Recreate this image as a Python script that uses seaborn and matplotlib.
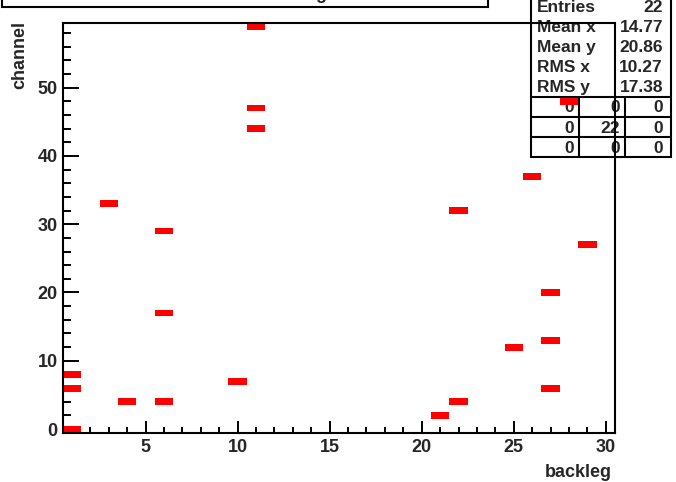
import numpy as np
import pandas as pd
import seaborn as sns
import matplotlib.pyplot as plt
from matplotlib.colors import ListedColormap
from matplotlib.patches import Rectangle
from matplotlib.lines import Line2D
from matplotlib.ticker import MultipleLocator

# hit positions (backleg, channel), one entry per fill
backleg = [1, 1, 1, 3, 4, 6, 6, 6, 10, 11, 11, 11, 21, 22, 22, 25, 26, 27, 27, 27, 28, 29]
channel = [0, 6, 8, 33, 4, 29, 17, 4, 7, 59, 47, 44, 2, 32, 4, 12, 37, 20, 13, 6, 48, 27]

stat_names = ["Entries", "Mean x", "Mean y", "RMS x", "RMS y"]
stat_values = ["22", "14.77", "20.86", "10.27", "17.38"]
overflow_grid = [["0", "0", "0"], ["0", "22", "0"], ["0", "0", "0"]]

df = pd.DataFrame({"backleg": backleg, "channel": channel})

sns.set_style("ticks")
plt.rcParams['font.family'] = ['Liberation Sans', 'DejaVu Sans']
plt.rcParams['font.weight'] = 'bold'

W, H = 676, 482
fig = plt.figure(figsize=(W / 100, H / 100), dpi=100, facecolor='white')


def fx(px):
    return px / W


def fy(py):
    return 1 - py / H


ax = fig.add_axes([fx(62.7), fy(432.5), fx(615) - fx(62.7), fy(22.7) - fy(432.5)])
ax.patch.set_facecolor('none')

sns.histplot(data=df, x="backleg", y="channel", discrete=True,
             cmap=ListedColormap(['#ff0000']), ax=ax)

ax.set_xlim(0.5, 30.5)
ax.set_ylim(-0.5, 59.5)
ax.set_xlabel("")
ax.set_ylabel("")
ax.xaxis.set_major_locator(MultipleLocator(5))
ax.xaxis.set_minor_locator(MultipleLocator(1))
ax.yaxis.set_major_locator(MultipleLocator(10))
ax.yaxis.set_minor_locator(MultipleLocator(2))
ax.tick_params(axis='x', which='major', direction='in', length=8.6, width=1.4,
               labelsize=13, pad=5, color='black')
ax.tick_params(axis='x', which='minor', direction='in', length=4.3, width=1.4, color='black')
ax.tick_params(axis='y', which='major', direction='in', length=11.5, width=1.4,
               labelsize=13, pad=3.5, color='black')
ax.tick_params(axis='y', which='minor', direction='in', length=5.8, width=1.4, color='black')
ax.set_xticks([5, 10, 15, 20, 25, 30])
ax.set_yticks([0, 10, 20, 30, 40, 50])
for lab in ax.get_xticklabels() + ax.get_yticklabels():
    lab.set_fontweight('bold')
for s in ax.spines.values():
    s.set_visible(True)
    s.set_linewidth(1.5)
    s.set_color('black')

# axis titles, ROOT style
fig.text(fx(612), fy(477), "backleg", ha='right', va='baseline',
         fontsize=13, fontweight='bold')
fig.text(fx(20), fy(21), "channel", ha='center', va='top', rotation=90,
         fontsize=13, fontweight='bold')

# title box, mostly off the canvas
fig.add_artist(Rectangle((fx(2), fy(7)), fx(488) - fx(2), 0.1, transform=fig.transFigure,
                         facecolor='white', edgecolor='black', linewidth=1.5, zorder=-2))
fig.text(fx(245), fy(-1), "channel vs backleg", ha='center', va='baseline',
         fontsize=13, fontweight='bold', zorder=-1)

# stats box, drawn behind the frame
bx0, bx1, by1 = 531, 671, 157
fig.add_artist(Rectangle((fx(bx0), fy(by1)), fx(bx1) - fx(bx0), 0.5, transform=fig.transFigure,
                         facecolor='white', edgecolor='black', linewidth=1.5, zorder=-2))
for i, (name, val) in enumerate(zip(stat_names, stat_values)):
    base = 12 + 20 * i
    fig.text(fx(537), fy(base), name, ha='left', va='baseline', fontsize=12.5,
             fontweight='bold', zorder=-1)
    fig.text(fx(663), fy(base), val, ha='right', va='baseline', fontsize=12.5,
             fontweight='bold', zorder=-1)

row_lines = [97, 117, 137]
col_lines = [579, 625]
for ry in row_lines:
    fig.add_artist(Line2D([fx(bx0), fx(bx1)], [fy(ry), fy(ry)], transform=fig.transFigure,
                          color='black', linewidth=1.5, zorder=-1))
for cx in col_lines:
    fig.add_artist(Line2D([fx(cx), fx(cx)], [fy(97), fy(by1)], transform=fig.transFigure,
                          color='black', linewidth=1.5, zorder=-1))
col_right = [574, 620, 663]
row_base = [112, 133, 153]
for r, row in enumerate(overflow_grid):
    for c, val in enumerate(row):
        fig.text(fx(col_right[c]), fy(row_base[r]), val, ha='right', va='baseline',
                 fontsize=12.5, fontweight='bold', zorder=-1)

fig.savefig("out.png", dpi=100)
